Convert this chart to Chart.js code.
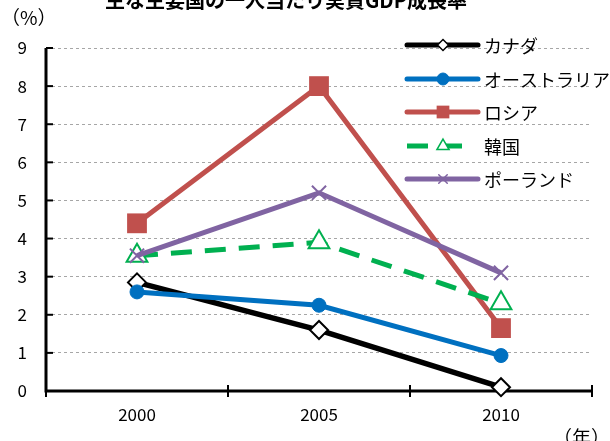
<!DOCTYPE html>
<html>
<head>
<meta charset="utf-8">
<script src="https://cdn.jsdelivr.net/npm/chart.js@4/dist/chart.umd.min.js"></script>
<style>
  html, body { margin: 0; padding: 0; background: #fff; }
  #wrap { width: 610px; height: 441px; }
</style>
</head>
<body>
<div id="wrap"><canvas id="gdpChart" width="610" height="441"></canvas></div>
<script>
var years = ['2000', '2005', '2010'];
var yTicks = [0, 1, 2, 3, 4, 5, 6, 7, 8, 9];

var canada = [2.85, 1.6, 0.1];
var australia = [2.6, 2.25, 0.93];
var russia = [4.4, 8.0, 1.65];
var korea = [3.55, 3.9, 2.3];
var poland = [3.55, 5.2, 3.1];

var names = ['カナダ', 'オーストラリア', 'ロシア', '韓国', 'ポーランド'];

const FONT = '"Noto Sans CJK JP", "Noto Sans", sans-serif';

// axes, tick marks, labels and the in-chart legend
const decor = {
    id: 'decor',
    beforeDatasetsDraw(chart) {
        const c = chart.ctx;
        const a = chart.chartArea;
        const xs = chart.scales.x;
        const ys = chart.scales.y;
        c.save();
        c.strokeStyle = '#000';
        c.lineWidth = 3;
        c.lineCap = 'butt';
        c.beginPath();
        c.moveTo(a.left, a.top);
        c.lineTo(a.left, a.bottom);
        c.lineTo(a.right, a.bottom);
        c.stroke();

        c.lineWidth = 2;
        yTicks.forEach(function(v){
            var py = ys.getPixelForValue(v);
            c.beginPath();
            c.moveTo(a.left, py);
            c.lineTo(a.left + 7, py);
            c.stroke();
        });
        var step = xs.getPixelForValue(1) - xs.getPixelForValue(0);
        for (var i = 0; i <= years.length; i++) {
            var px = xs.getPixelForValue(0) - step / 2 + i * step;
            c.beginPath();
            c.moveTo(px, a.bottom - 6);
            c.lineTo(px, a.bottom + 6);
            c.stroke();
        }
        c.restore();
    },
    afterDraw(chart) {
        const c = chart.ctx;
        c.save();
        c.fillStyle = '#000';

        c.font = 'bold 20px ' + FONT;
        c.textAlign = 'center';
        c.textBaseline = 'alphabetic';
        c.fillText('主な主要国の一人当たり実質GDP成長率', 286, 8);

        c.font = '19px ' + FONT;
        c.textAlign = 'left';
        c.textBaseline = 'middle';
        c.fillText('（%）', 1, 18);
        c.textAlign = 'right';
        c.fillText('（年）', 610, 438);

        // legend rows
        var rowY = [45, 79, 112, 146, 179];
        var marks = [
            {pointStyle: 'rectRot', radius: 5.5, borderWidth: 1.5, rotation: 0},
            {pointStyle: 'circle', radius: 6, borderWidth: 1, rotation: 0},
            {pointStyle: 'rect', radius: 9, borderWidth: 0, rotation: 0},
            {pointStyle: 'triangle', radius: 7, borderWidth: 1.5, rotation: 0},
            {pointStyle: 'crossRot', radius: 6, borderWidth: 1.5, rotation: 0}
        ];
        chart.data.datasets.forEach(function(ds, i){
            var y = rowY[i];
            c.save();
            c.strokeStyle = ds.borderColor;
            c.lineWidth = 5;
            c.lineCap = ds.borderDash ? 'butt' : 'round';
            c.setLineDash(ds.borderDash || []);
            c.beginPath();
            c.moveTo(407, y);
            c.lineTo(ds.borderDash ? 463 : 478, y);
            c.stroke();
            c.setLineDash([]);
            c.fillStyle = ds.pointBackgroundColor;
            c.strokeStyle = ds.pointBorderColor;
            c.lineWidth = marks[i].borderWidth;
            Chart.helpers.drawPoint(c, marks[i], 443, y);
            c.restore();

            c.font = '18px ' + FONT;
            c.textAlign = 'left';
            c.textBaseline = 'middle';
            c.fillStyle = '#000';
            c.fillText(names[i], 484, y + 1);
        });
        c.restore();
    }
};

function lineSet(label, data, color, style, radius, fill, border, order) {
    return {
        label: label,
        data: data,
        borderColor: color,
        borderWidth: 5,
        pointStyle: style,
        pointRadius: radius,
        pointHoverRadius: radius,
        pointBackgroundColor: fill,
        pointBorderColor: color,
        pointBorderWidth: border,
        tension: 0,
        clip: false,
        order: order
    };
}

const dataGdp = {
    labels: years,
    datasets: [
        Object.assign(lineSet(names[0], canada, '#000000', 'rectRot', 9, '#ffffff', 2, 4), {borderWidth: 5.5}),
        lineSet(names[1], australia, '#0070C0', 'circle', 7, '#0070C0', 1, 3),
        lineSet(names[2], russia, '#C0504D', 'rect', 14, '#C0504D', 0, 2),
        Object.assign(lineSet(names[3], korea, '#00B050', 'triangle', 12, '#ffffff', 2, 1), {borderDash: [21, 13]}),
        lineSet(names[4], poland, '#8064A2', 'crossRot', 10, '#8064A2', 2, 0)
    ]
};

const config = {
    type: 'line',
    data: dataGdp,
    options: {
        responsive: false,
        animation: false,
        layout: {
            padding: {top: 48, right: 18, bottom: 0, left: 0}
        },
        plugins: {
            legend: {display: false},
            tooltip: {enabled: false},
            title: {display: false}
        },
        scales: {
            x: {
                offset: true,
                grid: {display: false, drawTicks: false},
                border: {display: false},
                ticks: {
                    color: '#000',
                    padding: 13,
                    font: {family: FONT, size: 17}
                },
                afterFit: function(s){ s.height = 50; }
            },
            y: {
                min: 0,
                max: 9,
                grid: {
                    drawTicks: false,
                    lineWidth: 1,
                    color: function(ctx){
                        return ctx.tick && ctx.tick.value === 0 ? 'rgba(0,0,0,0)' : '#a6a6a6';
                    }
                },
                border: {display: false, dash: [3, 3]},
                ticks: {
                    stepSize: 1,
                    color: '#000',
                    padding: 19,
                    font: {family: FONT, size: 17}
                },
                afterFit: function(s){ s.width = 46; }
            }
        }
    },
    plugins: [decor]
};

const gdpChart = new Chart(
    document.getElementById('gdpChart'),
    config
);
</script>
</body>
</html>
